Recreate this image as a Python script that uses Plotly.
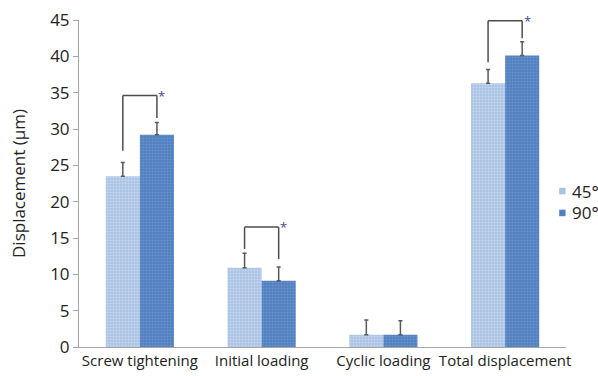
import plotly.graph_objects as go

categories = ["Screw tightening", "Initial loading", "Cyclic loading", "Total displacement"]
series_names = ["45°", "90°"]
vals_45 = [23.5, 10.9, 1.7, 36.3]
vals_90 = [29.2, 9.1, 1.7, 40.1]
err_45 = [1.9, 2.0, 2.0, 1.9]
err_90 = [1.7, 1.9, 1.9, 1.9]
# significance brackets: (category index, bracket height, left drop end, right drop end)
brackets = [(0, 34.6, 27.0, 31.5), (1, 16.5, 13.5, 12.1), (3, 44.9, 39.2, 42.5)]
y_ticks = [0, 5, 10, 15, 20, 25, 30, 35, 40, 45]

FONT = "Open Sans"
c45 = "#a9c2e4"
c90 = "#4f7fbf"
dot45 = "#e3ecf8"
dot90 = "#86a8d8"

fig = go.Figure()
x_idx = list(range(len(categories)))
fig.add_trace(go.Bar(
    name=series_names[0], x=x_idx, y=vals_45, showlegend=False,
    marker=dict(color=c45, line=dict(width=0),
                pattern=dict(shape=".", fgcolor=dot45, size=3, solidity=0.4)),
    error_y=dict(type="data", array=err_45, arrayminus=[0]*4, symmetric=False,
                 color="#595959", thickness=1.5, width=2),
))
fig.add_trace(go.Bar(
    name=series_names[1], x=x_idx, y=vals_90, showlegend=False,
    marker=dict(color=c90, line=dict(width=0),
                pattern=dict(shape=".", fgcolor=dot90, size=3, solidity=0.4)),
    error_y=dict(type="data", array=err_90, arrayminus=[0]*4, symmetric=False,
                 color="#595959", thickness=1.5, width=2),
))

off = 0.14
for ci, h, l_end, r_end in brackets:
    xl, xr = ci - off, ci + off
    fig.add_shape(type="line", x0=xl, x1=xl, y0=l_end, y1=h, xref="x", yref="y",
                  line=dict(color="#4d4d4d", width=1.5))
    fig.add_shape(type="line", x0=xl, x1=xr, y0=h, y1=h, xref="x", yref="y",
                  line=dict(color="#4d4d4d", width=1.5))
    fig.add_shape(type="line", x0=xr, x1=xr, y0=h, y1=r_end, xref="x", yref="y",
                  line=dict(color="#4d4d4d", width=1.5))
    fig.add_annotation(x=xr, y=h, xref="x", yref="y", text="*", showarrow=False,
                       xshift=5, yshift=0, font=dict(family=FONT, size=13, color="#4a4a8c"))

# manual compact legend (swatch + label)
leg_y = [0.477, 0.410]
for name, col, yy in zip(series_names, [c45, c90], leg_y):
    fig.add_shape(type="rect", xref="paper", yref="paper",
                  x0=0.986, x1=0.999, y0=yy - 0.010, y1=yy + 0.010,
                  fillcolor=col, line=dict(width=0))
    fig.add_annotation(x=1.008, y=yy, xref="paper", yref="paper", text=name,
                       showarrow=False, xanchor="left", yanchor="middle",
                       font=dict(family=FONT, size=17, color="#222222"))

fig.update_layout(
    width=598, height=376,
    margin=dict(l=79, r=32, t=20, b=29, autoexpand=False),
    paper_bgcolor="white", plot_bgcolor="white",
    barmode="group", bargap=0.44, bargroupgap=0,
    font=dict(family=FONT, size=15, color="#222222"),
    showlegend=False,
    xaxis=dict(tickmode="array", tickvals=x_idx, ticktext=categories,
               range=[-0.5, 3.5], showline=True, linecolor="#a6a6a6", linewidth=1,
               ticks="", showgrid=False, zeroline=False, tickfont=dict(size=15),
               automargin=False),
    yaxis=dict(range=[0, 45], tickmode="array", tickvals=y_ticks,
               showline=True, linecolor="#a6a6a6", linewidth=1,
               ticks="outside", ticklen=5, tickcolor="#a6a6a6",
               showgrid=False, zeroline=False, tickfont=dict(size=17),
               automargin=False,
               title=dict(text="Displacement (μm)", font=dict(size=17), standoff=20)),
)

fig.write_html("out.html", config={"displayModeBar": False},
               post_script="document.body.style.margin='0';")
